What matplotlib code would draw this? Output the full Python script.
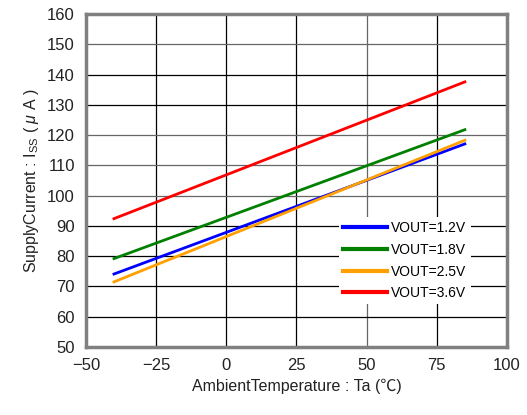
import matplotlib.pyplot as plt

plt.rcParams['font.family'] = ['Liberation Sans', 'Noto Sans CJK JP', 'DejaVu Sans']
plt.rcParams['mathtext.fontset'] = 'custom'
plt.rcParams['mathtext.rm'] = 'Liberation Sans'
plt.rcParams['mathtext.it'] = 'Liberation Sans:italic'

temps = [-40, 85]
vout_12 = [74.1, 117.1]
vout_18 = [79.2, 121.8]
vout_25 = [71.5, 118.3]
vout_36 = [92.4, 137.6]
labels = ['VOUT=1.2V', 'VOUT=1.8V', 'VOUT=2.5V', 'VOUT=3.6V']
colors = ['#0000ff', '#008000', '#ffa000', '#ff0000']

fig = plt.figure(figsize=(5.27, 4.15), dpi=100)
ax = fig.add_axes([0.163, 0.164, 0.799, 0.802])

for ys, lab, c in zip([vout_12, vout_18, vout_25, vout_36], labels, colors):
    ax.plot(temps, ys, color=c, lw=2, label=lab)

ax.set_xlim(-50, 100)
ax.set_ylim(50, 160)
ax.set_xticks(range(-50, 101, 25))
ax.set_yticks(range(50, 161, 10))
ax.set_axisbelow(True)
ax.grid(True, color='black', lw=0.9)
# some of the gridlines in the original are lighter
for t, g in zip(ax.get_yticks(), ax.yaxis.get_gridlines()):
    if t in (100, 110, 120, 150):
        g.set_color('#666666')
for t, g in zip(ax.get_xticks(), ax.xaxis.get_gridlines()):
    if t == 50:
        g.set_color('#666666')

for s in ax.spines.values():
    s.set_color('#808080')
    s.set_linewidth(2.5)
ax.tick_params(length=0, labelsize=12, pad=8, colors='#222222')

ax.set_xlabel('AmbientTemperature : Ta (℃)', fontsize=11.5, color='#222222')
ax.set_ylabel('SupplyCurrent : I$_{\\rm SS}$ ( $\\mu$ A )', fontsize=11.5, color='#222222')

leg = ax.legend(loc='upper left', bbox_to_anchor=(0.60, 0.39), frameon=True,
                fontsize=10, handlelength=3.2, handletextpad=0.3,
                labelspacing=0.55, borderpad=0.3, borderaxespad=0)
leg.get_frame().set_edgecolor('none')
leg.get_frame().set_facecolor('white')
leg.get_frame().set_alpha(1)
for l in leg.get_lines():
    l.set_linewidth(3)

fig.savefig('out.png', dpi=100)
